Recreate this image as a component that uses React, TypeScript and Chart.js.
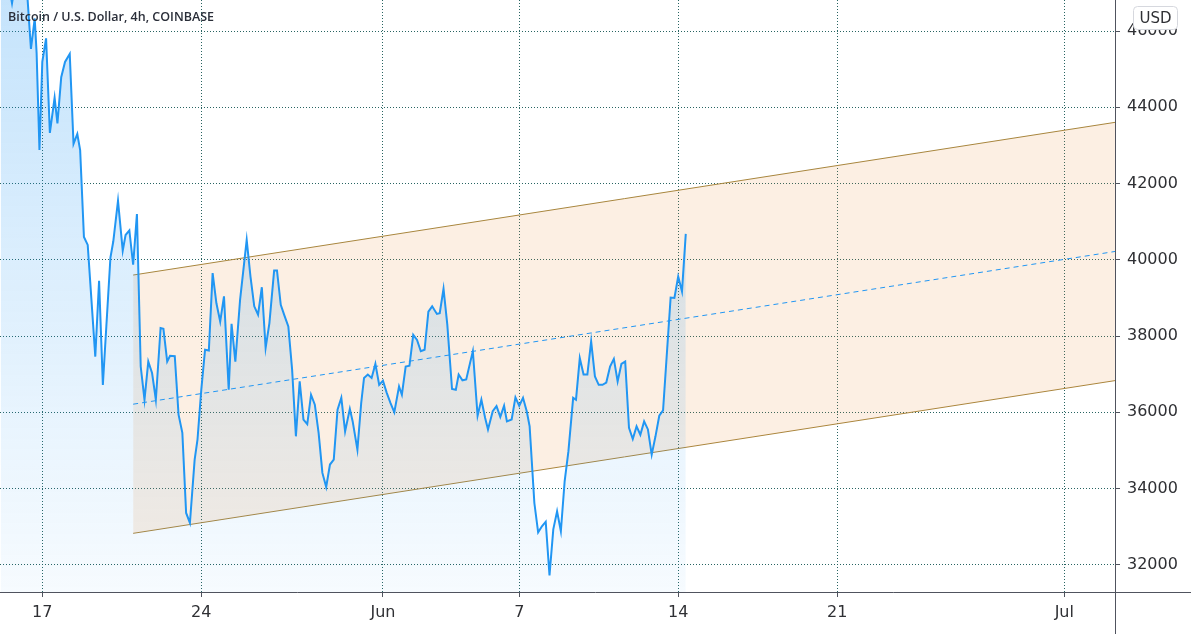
import React, { useEffect, useRef } from "react";
import { Chart, registerables } from "chart.js";

Chart.register(...registerables);

const TITLE = "Bitcoin / U.S. Dollar, 4h, COINBASE";
const CURRENCY = "USD";

// time in hours since 17 May 00:00 (4h bars), close prices in USD
const priceHours = [
  -44, -40, -36, -32, -27, -23, -19, -16, -12, -8,
  -6, -3, 0, 4, 8, 13, 16, 20, 24, 29,
  33, 37, 40, 44, 48, 56, 60, 64, 72, 75,
  80, 85, 88, 92, 96, 100, 104, 108, 112, 116,
  120, 125, 128, 132, 135, 140, 144, 148, 152, 156,
  161, 164, 168, 172, 176, 180, 184, 188, 192, 197,
  200, 204, 209, 216, 220, 224, 228, 232, 236, 240,
  245, 248, 252, 256, 260, 264, 268, 272, 276, 280,
  284, 288, 292, 296, 300, 304, 308, 312, 316, 320,
  325, 328, 333, 337, 340, 344, 348, 352, 356, 360,
  364, 368, 372, 377, 380, 384, 388, 392, 396, 400,
  404, 408, 412, 417, 420, 424, 428, 433, 437, 440,
  444, 448, 452, 455, 460, 464, 468, 471, 476, 480,
  484, 488, 491, 496, 500, 504, 508, 512, 515, 520,
  524, 528, 532, 536, 540, 544, 548, 552, 556, 561,
  564, 568, 572, 576, 580, 584, 588, 592, 596, 600,
  604, 608, 612, 616, 620, 624, 628, 632, 636, 640,
  644, 648, 652, 656, 664, 668, 672, 676, 680,
];
const priceValues = [
  47600, 48100, 47300, 46730, 47500, 47900, 47400, 47000, 45530, 46330,
  45420, 42880, 45190, 45810, 43330, 44250, 43580, 44790, 45190, 45400,
  43040, 43300, 42880, 40600, 40390, 37460, 39450, 36720, 40060, 40480,
  41550, 40240, 40650, 40770, 39870, 41200, 37200, 36330, 37330, 37030,
  36330, 38210, 38190, 37330, 37480, 37470, 35940, 35460, 33360, 33100,
  34760, 35280, 36590, 37640, 37620, 39650, 38860, 38380, 39040, 36590,
  38320, 37330, 38950, 40520, 39560, 38780, 38560, 39280, 37690, 38340,
  39720, 39720, 38820, 38530, 38250, 37120, 35370, 36810, 35810, 35690,
  36460, 36200, 35460, 34410, 34040, 34630, 34760, 36070, 36380, 35500,
  36090, 35760, 35020, 36240, 36900, 36990, 36900, 37270, 36720, 36830,
  36510, 36240, 36000, 36680, 36460, 37200, 37220, 38030, 37900, 37600,
  37640, 38640, 38780, 38580, 38600, 39240, 38300, 36610, 36590, 36990,
  36840, 36860, 37290, 37600, 35910, 36330, 35850, 35550, 36030, 36160,
  35880, 36170, 35760, 35810, 36390, 36170, 36380, 36020, 35630, 33620,
  32850, 33010, 33130, 31720, 32930, 33400, 32880, 34190, 34980, 36380,
  36330, 37420, 36990, 36990, 37860, 36940, 36720, 36720, 36780, 37200,
  37400, 36810, 37270, 37330, 35590, 35300, 35630, 35410, 35760, 35550,
  34890, 35370, 35910, 36050, 39010, 39000, 39560, 39170, 40680,
];

// parallel channel anchors
const channelHours = [96, 1136];
const channelUpper = [39600, 43615];
const channelLower = [32825, 36840];

const xTickHours = [0, 168, 360, 504, 672, 840, 1080];
const xTickLabels = ["17", "24", "Jun", "7", "14", "21", "Jul"];
const yTickValues = [32000, 34000, 36000, 38000, 40000, 42000, 44000, 46000];

const X_MIN = -44.7;
const X_MAX = 1133.6;
const Y_MIN = 31286;
const Y_MAX = 46815;

const TICK_FONT = { family: "DejaVu Sans", size: 16 };
const TICK_COLOR = "#2f3034";
const GRID_COLOR = "rgba(28, 92, 90, 0.95)";
const AXIS_COLOR = "#50535e";
const CHANNEL_COLOR = "#a8863e";

const framePlugin = {
  id: "frame",
  afterDraw(chart: any) {
    const ctx = chart.ctx;
    const ca = chart.chartArea;
    const W = chart.width;
    const H = chart.height;
    ctx.save();
    ctx.strokeStyle = AXIS_COLOR;
    ctx.lineWidth = 1;
    ctx.setLineDash([]);
    ctx.beginPath();
    ctx.moveTo(0, Math.round(ca.bottom) + 0.5);
    ctx.lineTo(W, Math.round(ca.bottom) + 0.5);
    ctx.moveTo(Math.round(ca.right) + 0.5, 0);
    ctx.lineTo(Math.round(ca.right) + 0.5, H);
    ctx.stroke();

    // title
    ctx.fillStyle = "#2a2e39";
    ctx.font = '600 12.5px "Open Sans"';
    ctx.textAlign = "left";
    ctx.textBaseline = "alphabetic";
    ctx.fillText(TITLE, 8, 21);

    // currency badge
    const bx = 1133.5, by = 6.5, bw = 44, bh = 23;
    ctx.beginPath();
    ctx.roundRect(bx, by, bw, bh, 4);
    ctx.fillStyle = "#ffffff";
    ctx.fill();
    ctx.strokeStyle = "#d6d8de";
    ctx.stroke();
    ctx.fillStyle = TICK_COLOR;
    ctx.font = '15px "DejaVu Sans"';
    ctx.textAlign = "center";
    ctx.textBaseline = "middle";
    ctx.fillText(CURRENCY, bx + bw / 2, by + bh / 2 + 1);
    ctx.restore();
  },
};

export default function App() {
  const ref = useRef<HTMLCanvasElement | null>(null);

  useEffect(() => {
    if (!ref.current) return;
    const priceData = priceHours.map((h, i) => ({ x: h, y: priceValues[i] }));
    const upperData = channelHours.map((h, i) => ({ x: h, y: channelUpper[i] }));
    const lowerData = channelHours.map((h, i) => ({ x: h, y: channelLower[i] }));
    const midData = channelHours.map((h, i) => ({ x: h, y: (channelUpper[i] + channelLower[i]) / 2 }));

    const chart = new Chart(ref.current, {
      type: "line",
      data: {
        datasets: [
          {
            data: priceData,
            borderColor: "#2196f3",
            borderWidth: 2,
            pointRadius: 0,
            tension: 0,
            fill: "start",
            backgroundColor: (c: any) => {
              const ca = c.chart.chartArea;
              if (!ca) return "rgba(33,150,243,0.15)";
              const g = c.chart.ctx.createLinearGradient(0, ca.top, 0, ca.bottom);
              g.addColorStop(0, "rgba(33,150,243,0.26)");
              g.addColorStop(1, "rgba(33,150,243,0.04)");
              return g;
            },
            order: 0,
          },
          {
            data: upperData,
            borderColor: CHANNEL_COLOR,
            borderWidth: 1,
            pointRadius: 0,
            fill: "+2",
            backgroundColor: "rgba(235,130,40,0.13)",
            order: 2,
          },
          {
            data: midData,
            borderColor: "#2196f3",
            borderWidth: 1,
            borderDash: [5, 4],
            pointRadius: 0,
            fill: false,
            order: 1,
          },
          {
            data: lowerData,
            borderColor: CHANNEL_COLOR,
            borderWidth: 1,
            pointRadius: 0,
            fill: false,
            order: 3,
          },
        ],
      },
      options: {
        responsive: false,
        animation: false,
        events: [],
        layout: { padding: 0 },
        plugins: {
          legend: { display: false },
          tooltip: { enabled: false },
        },
        scales: {
          x: {
            type: "linear",
            position: "bottom",
            min: X_MIN,
            max: X_MAX,
            afterBuildTicks: (s: any) => {
              s.ticks = xTickHours.map((v) => ({ value: v }));
            },
            afterFit: (s: any) => {
              s.height = 42;
              s.paddingLeft = 0;
              s.paddingRight = 0;
            },
            ticks: {
              autoSkip: false,
              maxRotation: 0,
              minRotation: 0,
              padding: 6,
              color: TICK_COLOR,
              font: TICK_FONT,
              callback: (v: any) => {
                const i = xTickHours.indexOf(Number(v));
                return i >= 0 ? xTickLabels[i] : "";
              },
            },
            grid: {
              color: GRID_COLOR,
              lineWidth: 1,
              drawTicks: true,
              tickLength: 5,
              tickColor: AXIS_COLOR,
            },
            border: { display: false, dash: [1, 2] },
          },
          y: {
            type: "linear",
            position: "right",
            min: Y_MIN,
            max: Y_MAX,
            afterBuildTicks: (s: any) => {
              s.ticks = yTickValues.map((v) => ({ value: v }));
            },
            afterFit: (s: any) => {
              s.width = 76;
              s.paddingTop = 0;
              s.paddingBottom = 0;
            },
            ticks: {
              padding: 7,
              color: TICK_COLOR,
              font: TICK_FONT,
              callback: (v: any) => String(v),
            },
            grid: {
              color: GRID_COLOR,
              lineWidth: 1,
              drawTicks: true,
              tickLength: 5,
              tickColor: AXIS_COLOR,
            },
            border: { display: false, dash: [1, 2] },
          },
        },
      },
      plugins: [framePlugin],
    } as any);

    return () => chart.destroy();
  }, []);

  return (
    <div style={{ position: "absolute", left: 0, top: 0, width: 1191, height: 634, background: "#ffffff" }}>
      <canvas ref={ref} width={1191} height={634} style={{ display: "block" }} />
    </div>
  );
}
